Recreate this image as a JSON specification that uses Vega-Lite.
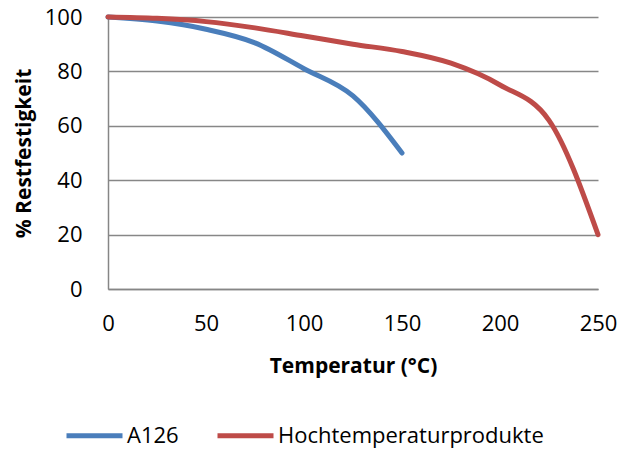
{
  "$schema": "https://vega.github.io/schema/vega-lite/v6.json",
  "width": 490,
  "height": 272,
  "autosize": {"type": "none"},
  "padding": {"left": 108, "top": 17, "right": 22, "bottom": 161},
  "config": {"view": {"stroke": null}, "font": "Open Sans"},
  "data": {
    "values": [
      {"t": 0, "v": 100, "s": "A126"},
      {"t": 25, "v": 98.5, "s": "A126"},
      {"t": 50, "v": 95.5, "s": "A126"},
      {"t": 75, "v": 90.5, "s": "A126"},
      {"t": 100, "v": 81, "s": "A126"},
      {"t": 125, "v": 71, "s": "A126"},
      {"t": 150, "v": 50, "s": "A126"},
      {"t": 0, "v": 100, "s": "Hochtemperaturprodukte"},
      {"t": 25, "v": 99.5, "s": "Hochtemperaturprodukte"},
      {"t": 50, "v": 98.3, "s": "Hochtemperaturprodukte"},
      {"t": 75, "v": 96, "s": "Hochtemperaturprodukte"},
      {"t": 100, "v": 93, "s": "Hochtemperaturprodukte"},
      {"t": 125, "v": 90, "s": "Hochtemperaturprodukte"},
      {"t": 150, "v": 87.3, "s": "Hochtemperaturprodukte"},
      {"t": 175, "v": 83, "s": "Hochtemperaturprodukte"},
      {"t": 200, "v": 75, "s": "Hochtemperaturprodukte"},
      {"t": 225, "v": 62, "s": "Hochtemperaturprodukte"},
      {"t": 250, "v": 20, "s": "Hochtemperaturprodukte"}
    ]
  },
  "mark": {"type": "line", "interpolate": "monotone", "strokeWidth": 5, "strokeCap": "round"},
  "encoding": {
    "x": {
      "field": "t", "type": "quantitative",
      "scale": {"domain": [0, 250], "nice": false},
      "axis": {
        "values": [0, 50, 100, 150, 200, 250],
        "title": "Temperatur (°C)",
        "grid": false, "ticks": false, "labelFlush": false,
        "domainColor": "#868686", "domainWidth": 1.5,
        "labelFontSize": 22, "labelColor": "#000", "labelPadding": 24,
        "titleFontSize": 21, "titleFontWeight": "bold", "titleColor": "#000", "titlePadding": 21
      }
    },
    "y": {
      "field": "v", "type": "quantitative",
      "scale": {"domain": [0, 100], "nice": false},
      "axis": {
        "values": [0, 20, 40, 60, 80, 100],
        "title": "% Restfestigkeit",
        "grid": true, "gridColor": "#878787", "gridWidth": 1.5,
        "ticks": false, "labelFlush": false,
        "domainColor": "#868686", "domainWidth": 1.5,
        "labelFontSize": 22, "labelColor": "#000", "labelPadding": 26,
        "titleFontSize": 21, "titleFontWeight": "bold", "titleColor": "#000", "titlePadding": 10
      }
    },
    "color": {
      "field": "s", "type": "nominal",
      "scale": {"domain": ["A126", "Hochtemperaturprodukte"], "range": ["#4A7EBB", "#BE4B48"]},
      "legend": {
        "title": null, "orient": "none", "direction": "horizontal",
        "legendX": -44, "legendY": 388,
        "symbolType": "stroke", "symbolSize": 3136, "symbolStrokeWidth": 5,
        "labelFontSize": 22, "labelColor": "#000", "labelOffset": 2, "labelLimit": 0,
        "columnPadding": 28
      }
    }
  }
}
